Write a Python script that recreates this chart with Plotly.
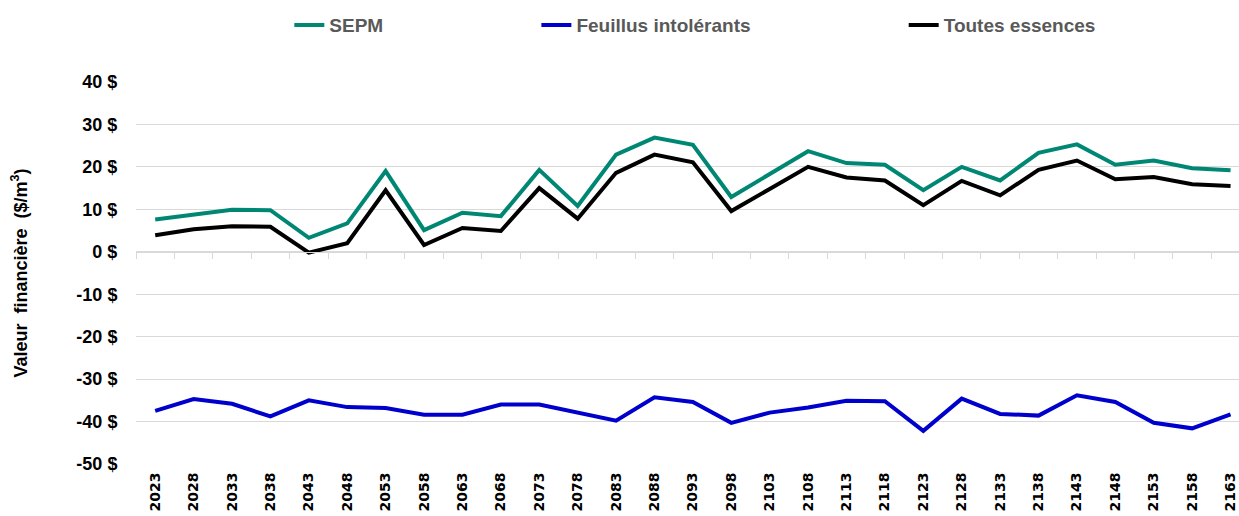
import plotly.graph_objects as go

years = [str(y) for y in range(2023, 2164, 5)]

sepm = [7.6, 8.8, 9.9, 9.8, 3.3, 6.7, 19.0, 5.1, 9.2, 8.4,
        19.3, 10.8, 22.9, 26.9, 25.2, 12.9, 18.4, 23.7, 20.9, 20.5,
        14.5, 20.0, 16.8, 23.3, 25.3, 20.5, 21.5, 19.7, 19.2]

feuillus = [-37.5, -34.7, -35.8, -38.8, -35.0, -36.6, -36.8, -38.4, -38.4, -36.0,
            -36.0, -37.8, -39.8, -34.3, -35.4, -40.3, -37.9, -36.7, -35.1, -35.2,
            -42.2, -34.6, -38.2, -38.6, -33.8, -35.4, -40.3, -41.6, -38.3]

toutes = [3.9, 5.3, 6.0, 5.9, -0.2, 2.0, 14.5, 1.6, 5.6, 4.9,
          15.0, 7.8, 18.6, 22.9, 21.1, 9.6, 14.8, 20.0, 17.5, 16.8,
          11.0, 16.7, 13.3, 19.3, 21.5, 17.1, 17.6, 15.9, 15.5]

series_names = ["SEPM", "Feuillus intolérants", "Toutes essences"]
series_colors = ["#008774", "#0000CC", "#000000"]
y_ticks = [-50, -40, -30, -20, -10, 0, 10, 20, 30, 40]
y_ticktext = [f"{v} $" for v in y_ticks]

FONT = "Liberation Sans, Arial, sans-serif"

fig = go.Figure()
legend_ids = ["legend", "legend2", "legend3"]
for name, vals, col, lg in zip(series_names, [sepm, feuillus, toutes], series_colors, legend_ids):
    fig.add_trace(go.Scatter(
        x=years, y=vals, mode="lines", name=name,
        line=dict(color=col, width=4),
        legend=lg,
    ))

# helper trace for the zero-crossing category axis with tick marks
fig.add_trace(go.Scatter(x=[0], y=[None], xaxis="x2", yaxis="y",
                         showlegend=False, hoverinfo="skip", mode="lines"))

n = len(years)
xr = [-0.5, 28.22]

legend_common = dict(
    orientation="h", yanchor="middle", y=1.149, xanchor="left",
    font=dict(family=FONT, size=19, color="#595959", weight="bold"),
    bgcolor="rgba(0,0,0,0)", borderwidth=0,
)

fig.update_layout(
    width=1239, height=516,
    margin=dict(l=136, r=0, t=82, b=52, autoexpand=False),
    paper_bgcolor="white", plot_bgcolor="white",
    font=dict(family=FONT, size=16, color="#000000"),
    legend=dict(x=0.139, **legend_common),
    legend2=dict(x=0.363, **legend_common),
    legend3=dict(x=0.696, **legend_common),
    xaxis=dict(
        type="category", range=xr, automargin=False,
        tickangle=-90, showgrid=False, zeroline=False, showline=False,
        ticks="outside", ticklen=2, tickcolor="rgba(0,0,0,0)",
        tickfont=dict(family="DejaVu Sans, sans-serif", size=14, color="#000000", weight="bold"),
    ),
    xaxis2=dict(
        overlaying="x", anchor="free", position=50 / 90, range=xr,
        tickmode="array", tickvals=[i + 0.5 for i in range(-1, n)],
        showticklabels=False, ticks="outside", ticklen=6, tickcolor="#d9d9d9",
        showline=True, linecolor="#d9d9d9", linewidth=1,
        showgrid=False, zeroline=False,
    ),
    yaxis=dict(
        range=[-50, 40], tickmode="array", tickvals=y_ticks, ticktext=y_ticktext,
        automargin=False,
        showgrid=True, gridcolor="#d9d9d9", gridwidth=1, zeroline=False,
        ticks="outside", ticklen=14, tickcolor="rgba(0,0,0,0)",
        tickfont=dict(family=FONT, size=18, color="#000000", weight="bold"),
        title=dict(text="Valeur  financière  ($/m<sup>3</sup>)",
                   font=dict(family=FONT, size=18, color="#000000", weight="bold"),
                   standoff=44),
    ),
    showlegend=True,
)

fig.write_html("out.html",
               config={"displayModeBar": False},
               post_script="document.body.style.margin='0';document.body.style.overflow='hidden';")
